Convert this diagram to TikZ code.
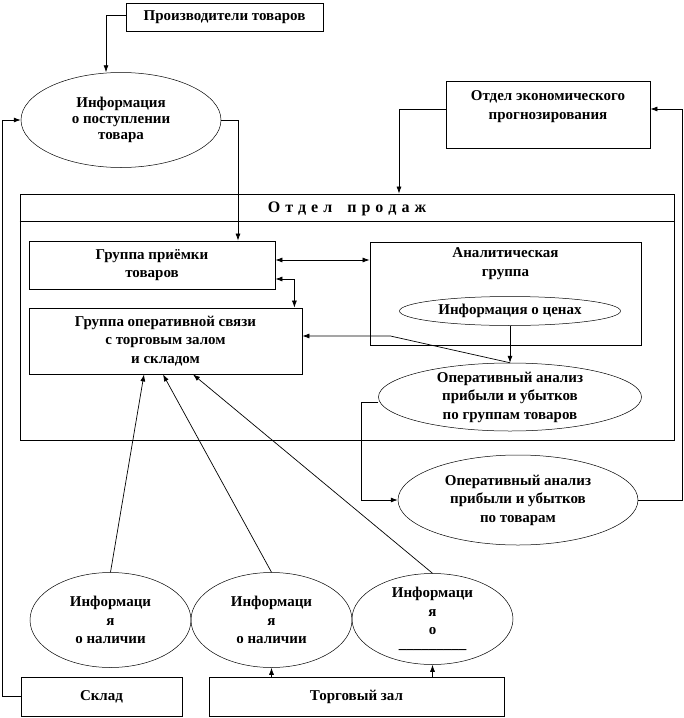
\documentclass[tikz,border=0pt]{standalone}
\usepackage{fontspec}
\setmainfont{Liberation Serif}
\usetikzlibrary{shapes.geometric,arrows.meta}
\tikzset{
  txt/.style={font=\bfseries\fontsize{15}{18.5}\selectfont, align=center, inner sep=0pt},
  box/.style={txt, draw, line width=0.8pt},
  oval/.style={txt, ellipse, draw, line width=0.5pt},
  arr/.style={-{Latex[length=7pt,width=5pt]}, line width=0.7pt},
  arrb/.style={{Latex[length=7pt,width=5pt]}-{Latex[length=7pt,width=5pt]}, line width=0.7pt}
}
\begin{document}
\begin{tikzpicture}[x=1pt, y=-1pt]
  \useasboundingbox (0,0) rectangle (684,718);
  % top
  \node[box, minimum width=197pt, minimum height=28pt] (prod) at (224.5,17) {Производители товаров};
  \node[oval, minimum width=200pt, minimum height=95pt, font=\bfseries\fontsize{15}{16}\selectfont] (infpost) at (121,120) {Информация\\о поступлении\\товара};
  \node[box, minimum width=204pt, minimum height=67pt] (ekon) at (548,114.5) {Отдел экономического\\прогнозирования\\ };
  % sales department
  \node[draw, line width=0.8pt, minimum width=654pt, minimum height=246pt] (sales) at (347,317) {};
  \draw[line width=0.8pt] ([yshift=-28pt]sales.north west) -- ([yshift=-28pt]sales.north east);
  \node[txt, font=\bfseries\fontsize{16}{18.5}\selectfont] (salest) at (347,209) {\spaceskip=5pt О т д е л \hspace{10pt}п р о д а ж};
  \node[box, minimum width=246pt, minimum height=48pt] (priem) at (152,265) {Группа приёмки\\товаров};
  \node[box, minimum width=273pt, minimum height=66pt] (oper) at (165.5,341) {Группа оперативной связи\\с торговым залом\\и складом};
  \node[box, minimum width=271pt, minimum height=103pt] (anal) at (505.5,293.5) {};
  \node[txt, below=6pt] (analt) at (anal.north) {Аналитическая\\группа};
  \node[oval, minimum width=221pt, minimum height=29pt] (ceny) at (510,311) {Информация о ценах};
  \node[oval, minimum width=263pt, minimum height=68pt, inner ysep=-12pt] (grp) at (510,397) {Оперативный анализ\\прибыли и убытков\\по группам товаров};
  \node[oval, minimum width=240pt, minimum height=90pt] (tov) at (518,500) {Оперативный анализ\\прибыли и убытков\\по товарам};
  % bottom
  \node[oval, minimum width=161pt, minimum height=95pt] (nal1) at (110.5,620) {Информаци\\я\\о наличии};
  \node[oval, minimum width=161pt, minimum height=95pt] (nal2) at (271.5,620) {Информаци\\я\\о наличии};
  \node[oval, minimum width=161pt, minimum height=91pt, inner ysep=-12pt] (nal3) at (432.5,619) {Информаци\\я\\о\\[-5pt]\_\_\_\_\_\_\_\_\_};
  \node[box, minimum width=161pt, minimum height=39pt] (sklad) at (101.5,696.5) {Склад};
  \node[box, minimum width=295pt, minimum height=39pt] (zal) at (356.5,696.5) {Торговый зал};
  % connectors
  \draw[arr] ([yshift=2pt]prod.west) -| ([xshift=-15pt]infpost.north);
  \draw[arr] (infpost.east) -| ([xshift=86pt]priem.north);
  \draw[arr] ([yshift=5.5pt]ekon.west) -| ([xshift=52pt]sales.north);
  \draw[arr] (tov.east) -- ++(44,0) |- ([yshift=5.5pt]ekon.east);
  \draw[arrb] ([yshift=5pt]priem.east) -- ([yshift=5pt]priem.east -| anal.west);
  \draw[arrb] ([yshift=-14pt]priem.east) -| ([xshift=-8pt]oper.north east);
  \draw[arr] (ceny.south) -- (grp.north);
  \draw[arr] (grp.north) -- ([xshift=88pt,yshift=5pt]oper.east) -- ([yshift=5pt]oper.east);
  \draw[arr] ([yshift=-5pt]grp.west) -- ++(-17,0) |- (tov.west);
  \draw[arr] (nal1.north) -- ([xshift=-21.5pt]oper.south);
  \draw[arr] (nal2.north) -- ([xshift=-2.5pt]oper.south);
  \draw[arr] (nal3.north) -- ([xshift=27.5pt]oper.south);
  \draw[arr] (sklad.west) -- ++(-18,0) |- (infpost.west);
  \draw[arr] (zal.north -| nal2.south) -- (nal2.south);
  \draw[arr] (zal.north -| nal3.south) -- (nal3.south);
\end{tikzpicture}
\end{document}
